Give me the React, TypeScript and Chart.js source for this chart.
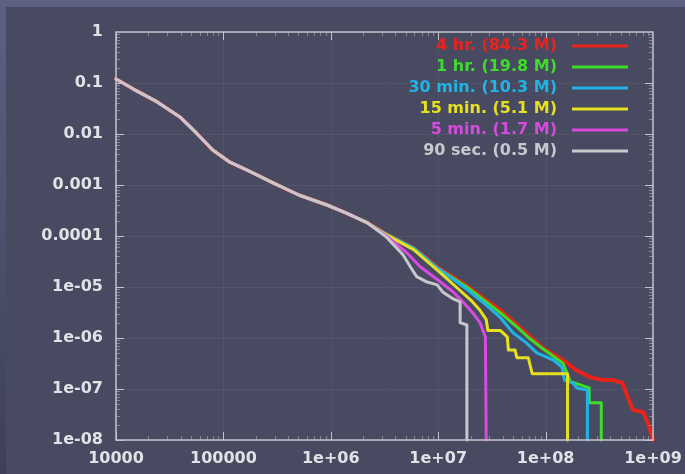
import React, { useEffect, useRef } from "react";
import { Chart, registerables } from "chart.js";

Chart.register(...registerables);

// ---- tick values / labels ----
const xTickValues = [1e4, 1e5, 1e6, 1e7, 1e8, 1e9];
const xTickLabels = ["10000", "100000", "1e+06", "1e+07", "1e+08", "1e+09"];
const yTickValues = [1, 0.1, 0.01, 0.001, 1e-4, 1e-5, 1e-6, 1e-7, 1e-8];
const yTickLabels = ["1", "0.1", "0.01", "0.001", "0.0001", "1e-05", "1e-06", "1e-07", "1e-08"];

// ---- series ----
const seriesLabels = [
  "4 hr. (84.3 M)",
  "1 hr. (19.8 M)",
  "30 min. (10.3 M)",
  "15 min. (5.1 M)",
  "5 min. (1.7 M)",
  "90 sec. (0.5 M)",
];
const seriesColors = ["#e8231c", "#3ddc2a", "#1fb4e6", "#e6e01e", "#d84ae0", "#c8c8cc"];
const seriesWidths = [4, 3, 3, 3, 3, 3];

// shared head of every curve (x = size, y = fraction)
const commonX = [1e4, 1.45e4, 2.4e4, 4.0e4, 5.6e4, 7.9e4, 1.15e5, 1.8e5, 2.9e5, 5.1e5, 9.1e5, 1.4e6, 2.2e6];
const commonY = [0.12, 0.076, 0.043, 0.021, 0.0105, 0.0049, 0.0028, 0.0018, 0.0011, 6.3e-4, 4.1e-4, 2.8e-4, 1.8e-4];

// tails: [x, y]
const tail4hr = [
  [3.3e6, 1.08e-4], [5.9e6, 5.8e-5], [1e7, 2.4e-5], [1.85e7, 1.05e-5], [2.8e7, 5.5e-6],
  [3.8e7, 3.5e-6], [6.2e7, 1.4e-6], [9.5e7, 6.3e-7], [1.45e8, 3.7e-7], [1.95e8, 2.3e-7],
  [2.6e8, 1.7e-7], [3.4e8, 1.5e-7], [4.2e8, 1.5e-7], [5.2e8, 1.3e-7], [5.8e8, 7e-8],
  [6.5e8, 3.9e-8], [8.1e8, 3.5e-8], [9e8, 2.1e-8], [1e9, 1e-8],
];
const tail1hr = [
  [3.3e6, 1.08e-4], [5.9e6, 5.8e-5], [1e7, 2.3e-5], [1.85e7, 1e-5], [2.8e7, 5.1e-6],
  [3.8e7, 3.1e-6], [5.4e7, 1.65e-6], [7e7, 1e-6], [9.8e7, 5.8e-7], [1.45e8, 3.2e-7],
  [1.7e8, 1.4e-7], [2.55e8, 1.05e-7], [2.55e8, 5.4e-8], [3.3e8, 5.4e-8], [3.3e8, 1e-8],
];
const tail30min = [
  [3.3e6, 1.08e-4], [5.9e6, 5.8e-5], [1e7, 2.3e-5], [1.85e7, 9e-6], [2.8e7, 4.4e-6],
  [3.8e7, 2.5e-6], [5e7, 1.25e-6], [6.5e7, 8.3e-7], [8.3e7, 5.1e-7], [1.18e8, 3.7e-7],
  [1.42e8, 2.7e-7], [1.5e8, 1.5e-7], [1.8e8, 1.3e-7], [1.95e8, 1.05e-7], [2.45e8, 9.5e-8],
  [2.45e8, 1e-8],
];
const tail15min = [
  [3.3e6, 1.05e-4], [5.9e6, 5.4e-5], [1.05e7, 1.9e-5], [1.47e7, 1e-5], [2e7, 5.6e-6],
  [2.45e7, 3.5e-6], [2.8e7, 2.3e-6], [2.9e7, 1.4e-6], [3.8e7, 1.4e-6], [4.4e7, 1.05e-6],
  [4.5e7, 5.8e-7], [5.2e7, 5.8e-7], [5.4e7, 4.1e-7], [6.9e7, 4.1e-7], [7.5e7, 2e-7],
  [1.6e8, 2e-7], [1.6e8, 1e-8],
];
const tail5min = [
  [3.3e6, 1.0e-4], [5.1e6, 4.7e-5], [6.8e6, 2.5e-5], [9.8e6, 1.4e-5], [1.38e7, 8e-6],
  [1.8e7, 4.5e-6], [2.1e7, 3.1e-6], [2.45e7, 2e-6], [2.75e7, 1.05e-6], [2.8e7, 1e-8],
];
const tail90sec = [
  [3.3e6, 9.5e-5], [4.7e6, 4.3e-5], [5.5e6, 2.5e-5], [6.3e6, 1.6e-5], [7.9e6, 1.25e-5],
  [9.8e6, 1.1e-5], [1.1e7, 8e-6], [1.35e7, 6e-6], [1.6e7, 5.1e-6], [1.6e7, 2e-6],
  [1.85e7, 1.8e-6], [1.85e7, 1e-8],
];
const tails = [tail4hr, tail1hr, tail30min, tail15min, tail5min, tail90sec];

const W = 685;
const H = 474;

const gnuplotFrame = {
  id: "gnuplotFrame",
  beforeDraw(chart: any) {
    const { ctx } = chart;
    ctx.save();
    ctx.fillStyle = "#474a60";
    ctx.fillRect(0, 0, W, H);
    ctx.fillStyle = "#5c6183";
    ctx.fillRect(0, 0, W, 7);
    const g = ctx.createLinearGradient(0, 0, 0, H);
    g.addColorStop(0, "#5c6183");
    g.addColorStop(1, "#3d4056");
    ctx.fillStyle = g;
    ctx.fillRect(0, 7, 6, H - 7);
    // grid
    const xs = chart.scales.x;
    const ys = chart.scales.y;
    const a = chart.chartArea;
    ctx.strokeStyle = "rgba(255,255,255,0.06)";
    ctx.lineWidth = 1;
    xTickValues.forEach((v) => {
      const px = Math.round(xs.getPixelForValue(v)) + 0.5;
      ctx.beginPath();
      ctx.moveTo(px, a.top);
      ctx.lineTo(px, a.bottom);
      ctx.stroke();
    });
    yTickValues.forEach((v) => {
      const py = Math.round(ys.getPixelForValue(v)) + 0.5;
      ctx.beginPath();
      ctx.moveTo(a.left, py);
      ctx.lineTo(a.right, py);
      ctx.stroke();
    });
    ctx.restore();
  },
  afterDatasetsDraw(chart: any) {
    const { ctx } = chart;
    const xs = chart.scales.x;
    const ys = chart.scales.y;
    const a = chart.chartArea;
    ctx.save();
    ctx.strokeStyle = "#c4c4cc";
    ctx.lineWidth = 1.5;
    ctx.strokeRect(a.left, a.top, a.right - a.left, a.bottom - a.top);
    ctx.lineWidth = 1;
    const tick = (x1: number, y1: number, x2: number, y2: number) => {
      ctx.beginPath();
      ctx.moveTo(x1, y1);
      ctx.lineTo(x2, y2);
      ctx.stroke();
    };
    for (let e = 4; e < 9; e++) {
      for (let k = 1; k < 10; k++) {
        const v = k * Math.pow(10, e);
        const px = Math.round(xs.getPixelForValue(v)) + 0.5;
        const len = k === 1 ? 8 : 4;
        ctx.strokeStyle = k === 1 ? "#c4c4cc" : "rgba(196,196,204,0.5)";
        tick(px, a.bottom, px, a.bottom - len);
        tick(px, a.top, px, a.top + len);
      }
    }
    for (let e = -8; e < 0; e++) {
      for (let k = 1; k < 10; k++) {
        const v = k * Math.pow(10, e);
        const py = Math.round(ys.getPixelForValue(v)) + 0.5;
        const len = k === 1 ? 8 : 4;
        ctx.strokeStyle = k === 1 ? "#c4c4cc" : "rgba(196,196,204,0.5)";
        tick(a.left, py, a.left + len, py);
        tick(a.right, py, a.right - len, py);
      }
    }
    ctx.restore();
  },
  afterDraw(chart: any) {
    const { ctx } = chart;
    const a = chart.chartArea;
    ctx.save();
    ctx.font = 'bold 16px "DejaVu Sans"';
    ctx.textAlign = "right";
    ctx.textBaseline = "middle";
    chart.data.datasets.forEach((ds: any, i: number) => {
      const y = a.top + 14 + i * 21;
      ctx.fillStyle = ds.borderColor;
      ctx.fillText(ds.label, a.right - 96, y);
      ctx.strokeStyle = ds.borderColor;
      ctx.lineWidth = 3;
      ctx.beginPath();
      ctx.moveTo(a.right - 81, y);
      ctx.lineTo(a.right - 25, y);
      ctx.stroke();
    });
    ctx.restore();
  },
};

export default function App() {
  const ref = useRef<HTMLCanvasElement>(null);

  useEffect(() => {
    if (!ref.current) return;
    const n = seriesLabels.length;
    const datasets = seriesLabels.map((label, i) => {
      const head = commonX.map((x, j) => ({ x, y: commonY[j] }));
      const tail = tails[i].map(([x, y]) => ({ x, y }));
      return {
        label,
        data: head.concat(tail),
        order: n - 1 - i,
        borderColor: seriesColors[i],
        backgroundColor: seriesColors[i],
        borderWidth: seriesWidths[i],
        pointRadius: 0,
        tension: 0,
        fill: false,
        clip: 4,
        borderJoinStyle: "round" as const,
        borderCapStyle: "round" as const,
      };
    });

    const tickFont = { family: '"DejaVu Sans"', size: 16, weight: "bold" as const };

    const chart = new Chart(ref.current, {
      type: "line",
      data: { datasets },
      options: {
        animation: false,
        responsive: false,
        devicePixelRatio: 1,
        layout: { padding: { left: 0, top: 32, right: 32, bottom: 0 } },
        plugins: { legend: { display: false }, tooltip: { enabled: false } },
        scales: {
          x: {
            type: "logarithmic",
            min: 1e4,
            max: 1e9,
            grid: { display: false, drawTicks: false },
            border: { display: false },
            afterBuildTicks: (scale: any) => {
              scale.ticks = xTickValues.map((v) => ({ value: v }));
            },
            afterFit: (scale: any) => {
              scale.height = 34;
              scale.paddingLeft = 0;
              scale.paddingRight = 0;
            },
            ticks: {
              autoSkip: false,
              maxRotation: 0,
              padding: 9,
              color: "#e2e2e6",
              font: tickFont,
              callback: (_v: any, i: number) => xTickLabels[i],
            },
          },
          y: {
            type: "logarithmic",
            min: 1e-8,
            max: 1,
            grid: { display: false, drawTicks: false },
            border: { display: false },
            afterBuildTicks: (scale: any) => {
              scale.ticks = yTickValues.map((v) => ({ value: v }));
            },
            afterFit: (scale: any) => {
              scale.width = 116;
              scale.paddingTop = 0;
              scale.paddingBottom = 0;
            },
            ticks: {
              autoSkip: false,
              padding: 13,
              color: "#e2e2e6",
              font: tickFont,
              callback: (_v: any, i: number) => yTickLabels[i],
            },
          },
        },
      },
      plugins: [gnuplotFrame],
    });
    return () => chart.destroy();
  }, []);

  return (
    <div style={{ position: "fixed", left: 0, top: 0, width: W, height: H, background: "#474a60" }}>
      <canvas ref={ref} width={W} height={H} style={{ display: "block", width: W, height: H }} />
    </div>
  );
}
